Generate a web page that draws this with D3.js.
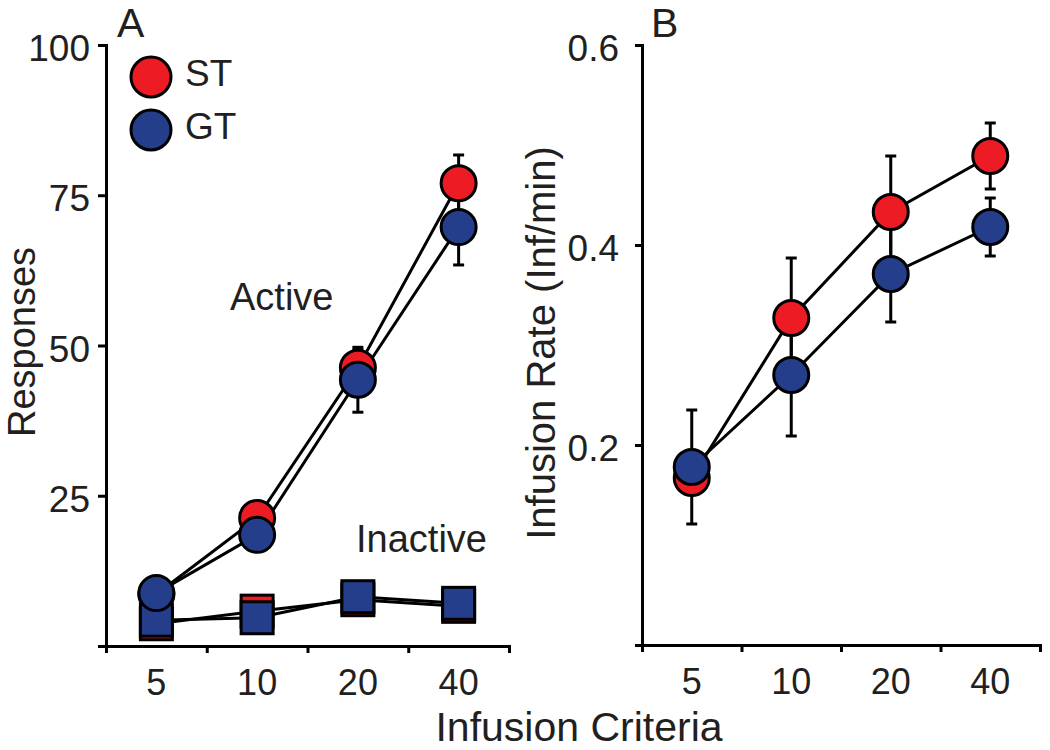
<!DOCTYPE html>
<html>
<head>
<meta charset="utf-8">
<script src="https://cdn.jsdelivr.net/npm/d3@7"></script>
<style>
  html, body { margin: 0; padding: 0; background: #fff; }
  svg text { font-family: "Liberation Sans", Arial, Helvetica, sans-serif; fill: #231f20; }
</style>
</head>
<body>
<svg id="chart" width="1050" height="750"></svg>
<script>
// ---------- data ----------
const criteria = ["5", "10", "20", "40"];
const groups = ["ST", "GT"];
const groupColors = ["#ed1c24", "#243e8c"];

// Panel A: responses
const activeST = [8.6, 21.3, 46.3, 77.0];
const activeSTsem = [1.0, 1.5, 3.0, 4.7];
const activeGT = [8.8, 18.5, 44.3, 69.7];
const activeGTsem = [1.0, 1.5, 5.4, 6.3];
const inactiveST = [3.7, 5.8, 7.7, 6.6];
const inactiveSTsem = [0.8, 1.0, 1.0, 1.0];
const inactiveGT = [4.3, 4.7, 8.2, 7.1];
const inactiveGTsem = [0.8, 1.0, 1.0, 1.0];
const ticksA = [0, 25, 50, 75, 100];

// Panel B: infusion rate
const rateST = [0.167, 0.327, 0.433, 0.489];
const rateSTsem = [0.015, 0.060, 0.056, 0.033];
const rateGT = [0.178, 0.270, 0.371, 0.418];
const rateGTsem = [0.057, 0.061, 0.048, 0.029];
const ticksB = [0, 0.2, 0.4, 0.6];

// ---------- drawing ----------
const svg = d3.select("#chart");
const ink = "#000";
const R = 17.5, SQ = 32, LW = 3;

function drawPanel(cfg) {
  const g = svg.append("g");
  const x = d3.scaleBand().domain(criteria).range(cfg.xr);
  const y = d3.scaleLinear().domain(cfg.yd).range(cfg.yr);

  // x tick marks at band boundaries
  const xEdge = d3.scaleLinear().domain([0, criteria.length]).range(cfg.xr);
  const xa = g.append("g").attr("transform", `translate(0,${cfg.yr[0]})`)
    .call(d3.axisBottom(xEdge).tickValues(d3.range(criteria.length + 1))
      .tickFormat("").tickSize(7).tickSizeOuter(0));
  xa.selectAll("line").attr("stroke", ink).attr("stroke-width", LW);
  xa.select(".domain").attr("stroke", ink).attr("stroke-width", LW).attr("stroke-linecap", "square");

  // x category labels
  const xl = g.append("g").attr("transform", `translate(0,${cfg.yr[0]})`)
    .call(d3.axisBottom(x).tickSize(0).tickPadding(23.5));
  xl.select(".domain").remove();
  xl.selectAll("text").attr("font-size", 36).style("font-family", "Liberation Sans, Arial, sans-serif").attr("fill", "#231f20");

  // y axis
  const ya = g.append("g").attr("transform", `translate(${cfg.xr[0]},0)`)
    .call(d3.axisLeft(y).tickValues(cfg.ticks).tickFormat(cfg.fmt)
      .tickSize(cfg.ytick).tickPadding(cfg.ypad).tickSizeOuter(0));
  ya.selectAll("line").attr("stroke", ink).attr("stroke-width", LW);
  ya.select(".domain").attr("stroke", ink).attr("stroke-width", LW).attr("stroke-linecap", "square");
  ya.selectAll("text").attr("font-size", 37).attr("dy", "0.42em")
    .style("font-family", "Liberation Sans, Arial, sans-serif").attr("fill", "#231f20");

  const line = d3.line().x((d, i) => x(criteria[i]) + x.bandwidth() / 2).y(d => y(d));
  const cx = i => x(criteria[i]) + x.bandwidth() / 2;

  // lines
  cfg.series.forEach(s => {
    g.append("path").datum(s.v).attr("d", line)
      .attr("fill", "none").attr("stroke", ink).attr("stroke-width", LW);
  });
  // error bars
  cfg.series.forEach(s => {
    s.v.forEach((v, i) => {
      const eb = g.append("g");
      eb.append("line").attr("x1", cx(i)).attr("x2", cx(i))
        .attr("y1", y(v - s.e[i])).attr("y2", y(v + s.e[i]))
        .attr("stroke", ink).attr("stroke-width", LW);
      [v - s.e[i], v + s.e[i]].forEach(w => {
        eb.append("line").attr("x1", cx(i) - 5.5).attr("x2", cx(i) + 5.5)
          .attr("y1", y(w)).attr("y2", y(w)).attr("stroke", ink).attr("stroke-width", LW);
      });
    });
  });
  // markers: red first, then blue
  [0, 1].forEach(gi => {
    cfg.series.filter(s => s.g === gi).forEach(s => {
      if (s.shape === "circle") {
        g.selectAll(null).data(s.v).enter().append("circle")
          .attr("cx", (d, i) => cx(i)).attr("cy", d => y(d)).attr("r", R)
          .attr("fill", groupColors[gi]).attr("stroke", ink).attr("stroke-width", LW);
      } else {
        g.selectAll(null).data(s.v).enter().append("rect")
          .attr("x", (d, i) => cx(i) - SQ / 2).attr("y", d => y(d) - SQ / 2)
          .attr("width", SQ).attr("height", SQ)
          .attr("fill", groupColors[gi]).attr("stroke", ink).attr("stroke-width", LW);
      }
    });
  });
  return { g, x, y };
}

const fmtA = d => d === 0 ? "" : d3.format("d")(d);
const fmtB = d => d === 0 ? "" : d3.format(".1f")(d);

drawPanel({
  xr: [106, 509], yr: [646, 45], yd: [0, 100], ticks: ticksA, fmt: fmtA, ytick: 8, ypad: 8,
  series: [
    { g: 0, shape: "square", v: inactiveST, e: inactiveSTsem },
    { g: 1, shape: "square", v: inactiveGT, e: inactiveGTsem },
    { g: 0, shape: "circle", v: activeST, e: activeSTsem },
    { g: 1, shape: "circle", v: activeGT, e: activeGTsem }
  ]
});

drawPanel({
  xr: [642, 1040], yr: [645, 45], yd: [0, 0.6], ticks: ticksB, fmt: fmtB, ytick: 7, ypad: 16,
  series: [
    { g: 0, shape: "circle", v: rateST, e: rateSTsem },
    { g: 1, shape: "circle", v: rateGT, e: rateGTsem }
  ]
});

// legend
const lg = svg.append("g");
groups.forEach((name, i) => {
  const yy = 77 + i * 53;
  lg.append("circle").attr("cx", 151).attr("cy", yy).attr("r", 20)
    .attr("fill", groupColors[i]).attr("stroke", ink).attr("stroke-width", LW);
  lg.append("text").attr("x", 185).attr("y", yy + 9).attr("font-size", 37).text(name);
});

// annotations
svg.append("text").attr("x", 230).attr("y", 310).attr("font-size", 38).text("Active");
svg.append("text").attr("x", 356).attr("y", 552).attr("font-size", 38).text("Inactive");

// panel letters
svg.append("text").attr("x", 117).attr("y", 37).attr("font-size", 41).text("A");
svg.append("text").attr("x", 651).attr("y", 37).attr("font-size", 41).text("B");

// axis titles
svg.append("text").attr("transform", "translate(35,342) rotate(-90)")
  .attr("text-anchor", "middle").attr("font-size", 38).text("Responses");
svg.append("text").attr("transform", "translate(555,343) rotate(-90)")
  .attr("text-anchor", "middle").attr("font-size", 40).text("Infusion Rate (Inf/min)");
svg.append("text").attr("x", 579).attr("y", 741)
  .attr("text-anchor", "middle").attr("font-size", 41).text("Infusion Criteria");
</script>
</body>
</html>
